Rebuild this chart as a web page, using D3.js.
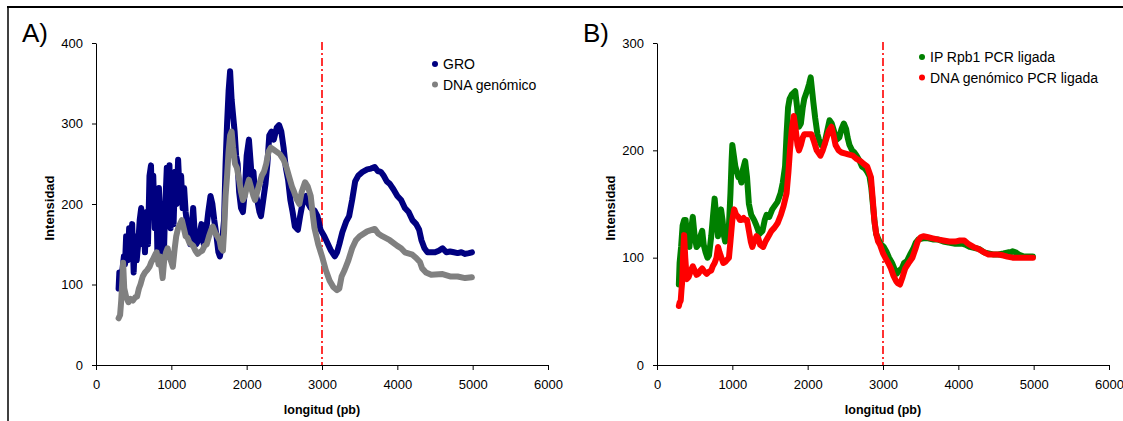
<!DOCTYPE html>
<html>
<head>
<meta charset="utf-8">
<script src="https://cdn.jsdelivr.net/npm/d3@7"></script>
<style>
  body { margin: 0; background: #fff; }
  svg { display: block; font-family: "Liberation Sans", Arial, sans-serif; }
  .axis text { font-size: 13px; fill: #000; }
  .axis path, .axis line { stroke: #000; stroke-width: 1; }
</style>
</head>
<body>
<svg id="fig" width="1123" height="421"></svg>
<script>
// ---- data, [longitud (pb), intensidad] ----
var groData = [[300,95],[310,115],[330,100],[350,118],[370,135],[385,125],[400,160],[420,130],[440,170],[460,150],[480,175],[500,115],[520,160],[540,130],[560,150],[580,180],[600,195],[615,150],[630,185],[650,140],[670,190],[690,150],[710,235],[730,248],[745,190],[760,235],[780,170],[800,215],[815,140],[835,220],[850,180],[870,200],[890,130],[905,150],[920,200],[940,245],[960,195],[975,248],[990,170],[1010,230],[1030,175],[1050,240],[1070,200],[1090,255],[1110,215],[1130,235],[1150,195],[1170,220],[1190,190],[1210,175],[1230,165],[1250,150],[1270,170],[1290,195],[1310,165],[1330,150],[1360,155],[1400,175],[1430,150],[1460,165],[1490,190],[1520,210],[1545,200],[1570,180],[1600,160],[1625,140],[1645,135],[1670,150],[1700,180],[1720,250],[1740,300],[1760,340],[1780,365],[1800,330],[1820,310],[1840,290],[1860,260],[1880,250],[1900,215],[1925,195],[1950,190],[1975,215],[2000,260],[2030,280],[2050,255],[2070,230],[2090,240],[2110,215],[2140,205],[2170,190],[2190,185],[2220,205],[2250,225],[2275,250],[2300,285],[2330,290],[2360,280],[2400,295],[2430,298],[2460,290],[2490,270],[2520,245],[2550,230],[2580,205],[2610,190],[2640,172],[2680,168],[2710,185],[2750,205],[2790,210],[2820,200],[2850,195],[2900,192],[2940,185],[2980,168],[3030,160],[3080,150],[3120,142],[3170,135],[3200,140],[3230,150],[3270,165],[3320,178],[3360,185],[3400,205],[3440,228],[3480,235],[3540,240],[3600,243],[3650,244],[3700,246],[3740,241],[3780,240],[3820,235],[3860,228],[3900,225],[3950,218],[4000,210],[4050,205],[4100,195],[4150,190],[4200,180],[4250,175],[4290,168],[4320,155],[4360,145],[4400,140],[4450,140],[4500,140],[4550,142],[4600,145],[4650,140],[4700,141],[4750,140],[4800,139],[4850,140],[4900,138],[4950,139],[4990,140]];

var dnaData = [[300,58],[320,62],[335,80],[350,105],[360,127],[375,95],[400,85],[430,78],[460,82],[490,80],[520,84],[545,85],[570,95],[590,100],[620,110],[650,115],[680,118],[710,122],[735,128],[760,132],[790,138],[805,140],[830,125],[850,135],[870,120],[885,108],[905,130],[930,140],[950,145],[975,135],[1000,128],[1020,122],[1045,145],[1065,160],[1090,170],[1115,175],[1140,180],[1165,170],[1190,160],[1215,158],[1240,152],[1265,150],[1290,148],[1320,142],[1350,138],[1375,140],[1410,142],[1440,148],[1470,150],[1500,160],[1530,168],[1550,172],[1580,165],[1610,160],[1640,155],[1660,145],[1685,142],[1700,165],[1720,210],[1740,235],[1760,265],[1780,285],[1800,290],[1820,270],[1845,250],[1870,245],[1900,230],[1925,215],[1950,205],[1975,210],[2000,220],[2030,230],[2060,220],[2090,210],[2110,205],[2140,215],[2170,225],[2200,235],[2230,240],[2260,250],[2290,265],[2320,270],[2350,268],[2395,265],[2440,262],[2490,255],[2530,245],[2560,235],[2600,222],[2630,215],[2664,206],[2700,200],[2730,215],[2775,227],[2810,222],[2850,210],[2880,185],[2900,170],[2950,150],[3000,135],[3050,118],[3100,105],[3150,97],[3200,93],[3230,95],[3260,110],[3300,118],[3350,130],[3400,145],[3450,155],[3500,160],[3600,166],[3700,169],[3750,163],[3800,160],[3900,155],[4000,148],[4050,145],[4100,140],[4200,137],[4250,133],[4300,128],[4330,120],[4380,115],[4450,112],[4600,113],[4700,110],[4800,110],[4900,108],[4990,109]];

var rpbData = [[290,75],[300,95],[320,110],[340,130],[360,135],[380,135],[400,118],[430,110],[450,125],[475,138],[500,120],[525,110],[550,112],[575,120],[600,125],[620,112],[645,105],[670,100],[690,102],[720,120],[745,140],[765,155],[785,140],[810,120],[830,135],[850,145],[870,135],[890,120],[905,115],[930,122],[955,130],[975,160],[990,190],[1000,205],[1020,195],[1040,185],[1060,180],[1080,175],[1100,175],[1120,170],[1140,182],[1170,190],[1195,175],[1220,150],[1250,140],[1290,135],[1320,130],[1360,122],[1400,125],[1430,135],[1455,140],[1490,138],[1530,145],[1560,148],[1600,152],[1640,160],[1670,170],[1700,185],[1720,215],[1740,240],[1760,248],[1790,252],[1835,255],[1860,240],[1885,222],[1910,225],[1935,240],[1955,248],[1990,255],[2020,262],[2040,268],[2060,255],[2075,245],[2100,230],[2130,215],[2150,210],[2180,205],[2220,205],[2250,215],[2290,228],[2320,225],[2350,218],[2385,210],[2420,212],[2450,220],[2480,225],[2510,220],[2530,212],[2555,205],[2590,200],[2620,198],[2650,195],[2690,190],[2720,185],[2760,183],[2790,180],[2820,176],[2845,165],[2865,150],[2890,132],[2910,122],[2935,118],[2965,113],[3010,110],[3050,105],[3080,100],[3120,95],[3150,90],[3180,85],[3215,88],[3250,90],[3280,95],[3320,97],[3360,103],[3400,108],[3435,114],[3470,117],[3535,118],[3600,118],[3660,117],[3725,117],[3800,115],[3870,114],[3960,113],[4050,113],[4100,112],[4150,110],[4220,109],[4280,108],[4340,105],[4400,104],[4460,103],[4530,103],[4600,104],[4660,105],[4700,105],[4720,106],[4760,105],[4800,103],[4870,101],[4930,101],[4990,101]];

var ligData = [[290,55],[300,58],[315,60],[325,70],[335,78],[345,100],[360,121],[375,100],[395,80],[420,82],[450,88],[475,92],[500,88],[525,84],[550,85],[575,88],[600,90],[630,87],[660,85],[690,87],[720,88],[740,92],[765,95],[790,100],[810,110],[830,105],[855,100],[880,95],[905,96],[930,98],[955,100],[975,115],[1000,135],[1025,145],[1050,140],[1080,138],[1100,135],[1120,135],[1150,137],[1170,135],[1195,135],[1220,125],[1245,115],[1265,110],[1290,115],[1320,120],[1345,118],[1370,112],[1410,110],[1440,115],[1480,120],[1520,125],[1560,128],[1600,132],[1645,140],[1680,148],[1720,160],[1745,180],[1765,200],[1790,220],[1815,232],[1840,220],[1865,205],[1885,200],[1910,205],[1935,212],[1955,215],[2000,215],[2050,215],[2085,208],[2120,200],[2150,197],[2170,195],[2200,200],[2245,210],[2280,218],[2315,222],[2340,215],[2370,205],[2410,200],[2450,198],[2505,197],[2550,196],[2600,195],[2650,192],[2700,190],[2750,187],[2790,185],[2815,180],[2840,175],[2860,158],[2885,135],[2910,122],[2935,115],[2960,112],[3000,104],[3030,100],[3070,95],[3105,90],[3140,83],[3175,78],[3200,76],[3225,75],[3260,82],[3295,90],[3340,95],[3390,100],[3430,108],[3460,115],[3500,119],[3535,120],[3600,119],[3660,118],[3725,117],[3800,116],[3880,115],[3960,115],[4020,116],[4080,116],[4130,113],[4200,110],[4270,108],[4340,105],[4400,103],[4460,103],[4530,103],[4600,102],[4650,101],[4720,100],[4800,100],[4880,100],[4940,100],[4990,100]];

var xTicks = [0, 1000, 2000, 3000, 4000, 5000, 6000];
var yTicksA = [0, 100, 200, 300, 400];
var yTicksB = [0, 100, 200, 300];
var cutX = 3000;

var svg = d3.select("#fig");

// outer frame (top rule + left rule of the page)
svg.append("line").attr("x1", 7).attr("x2", 1123).attr("y1", 7).attr("y2", 7)
  .attr("stroke", "#000").attr("stroke-width", 2);
svg.append("line").attr("x1", 8).attr("x2", 8).attr("y1", 6).attr("y2", 421)
  .attr("stroke", "#000").attr("stroke-width", 1.5);

function panel(opt) {
  var x = d3.scaleLinear().domain([0, 6000]).range([opt.left, opt.left + 452]);
  var y = d3.scaleLinear().domain([0, opt.ymax]).range([365, 43]);
  var g = svg.append("g");

  g.append("g").attr("class", "axis").attr("transform", "translate(0,365)")
    .call(d3.axisBottom(x).tickValues(xTicks).tickSize(5).tickSizeOuter(0).tickPadding(10).tickFormat(d3.format("d")));
  g.append("g").attr("class", "axis").attr("transform", "translate(" + opt.left + ",0)")
    .call(d3.axisLeft(y).tickValues(opt.yTicks).tickSize(4).tickSizeOuter(0).tickPadding(9).tickFormat(d3.format("d")));

  // vertical marker at 3000 bp
  g.append("line").attr("x1", x(cutX)).attr("x2", x(cutX)).attr("y1", 42).attr("y2", 365)
    .attr("stroke", "#ff0000").attr("stroke-width", 1.6).attr("stroke-dasharray", "8,3,2,3");

  var line = d3.line().x(function(d) { return x(d[0]); }).y(function(d) { return y(d[1]); });
  opt.series.forEach(function(s) {
    g.append("path").datum(s.data).attr("d", line)
      .attr("fill", "none").attr("stroke", s.color).attr("stroke-width", 6)
      .attr("stroke-linejoin", "round").attr("stroke-linecap", "round");
  });

  // legend
  opt.series.forEach(function(s, i) {
    var ly = opt.legY + i * 20.5;
    g.append("circle").attr("cx", opt.legX).attr("cy", ly).attr("r", 3).attr("fill", s.color);
    g.append("text").attr("x", opt.legX + 8).attr("y", ly + 5).attr("font-size", 14).text(s.name);
  });

  g.append("text").attr("x", opt.left - 74).attr("y", 42).attr("font-size", 26).text(opt.label);
  g.append("text").attr("x", x(3000)).attr("y", 414).attr("text-anchor", "middle")
    .attr("font-size", 12.5).attr("font-weight", "bold").text("longitud (pb)");
  g.append("text").attr("transform", "translate(" + (opt.left - 42) + ",208) rotate(-90)")
    .attr("text-anchor", "middle").attr("font-size", 13).attr("font-weight", "bold").text("Intensidad");
}

panel({
  left: 96, ymax: 400, yTicks: yTicksA, label: "A)", legX: 435, legY: 64,
  series: [
    { name: "GRO", color: "#000080", data: groData },
    { name: "DNA genómico", color: "#808080", data: dnaData }
  ]
});

panel({
  left: 657, ymax: 300, yTicks: yTicksB, label: "B)", legX: 922, legY: 57,
  series: [
    { name: "IP Rpb1 PCR ligada", color: "#008000", data: rpbData },
    { name: "DNA genómico PCR ligada", color: "#ff0000", data: ligData }
  ]
});
</script>
</body>
</html>
